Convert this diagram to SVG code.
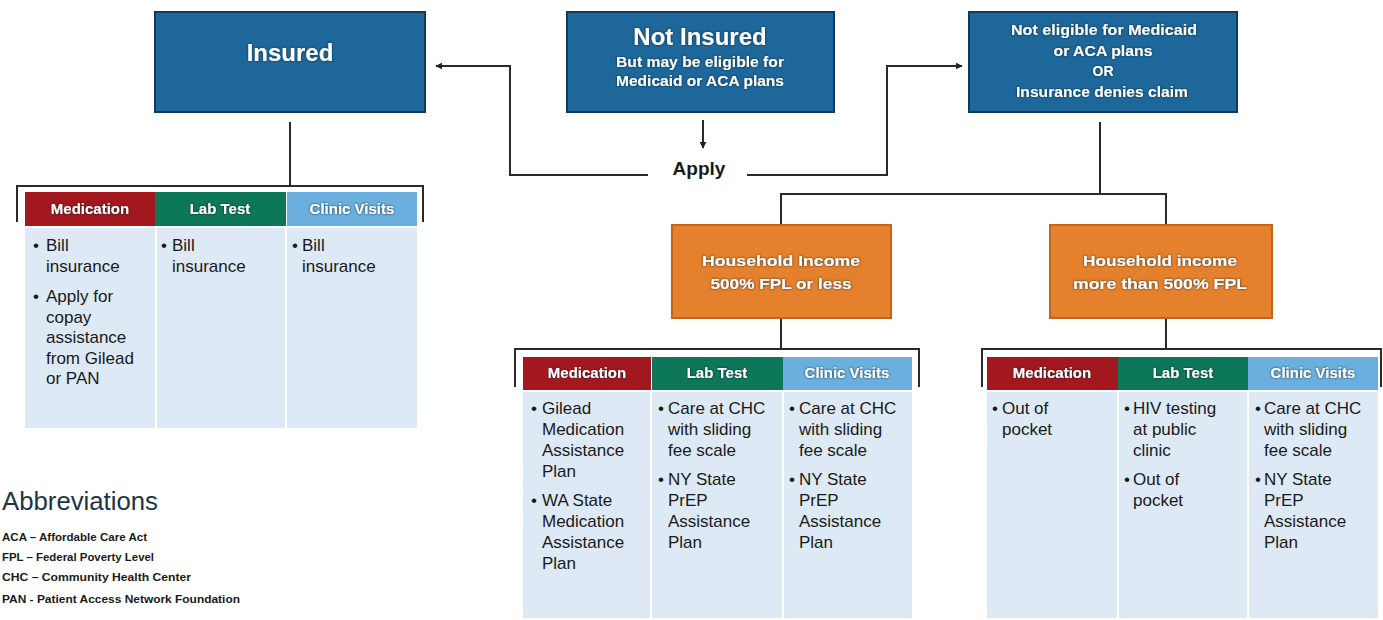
<svg xmlns="http://www.w3.org/2000/svg" width="1383" height="620" viewBox="0 0 1383 620">
<defs>
<filter id="sh" x="-10%" y="-30%" width="120%" height="160%">
<feDropShadow dx="0" dy="0" stdDeviation="1.2" flood-color="#0a2030" flood-opacity="0.9"/>
</filter>
<marker id="ah" viewBox="0 0 10 10" refX="9" refY="5" markerWidth="7" markerHeight="7" orient="auto" markerUnits="userSpaceOnUse">
<path d="M0,0 L10,5 L0,10 z" fill="#222"/>
</marker>
</defs>
<style>
.blue{fill:#1d679a;stroke:#0f3a5e;stroke-width:2}
.orange{fill:#e5802c;stroke:#c4631c;stroke-width:2}
.red{fill:#a3181e}
.green{fill:#0d7858}
.lblue{fill:#6aafdd}
.body{fill:#dde9f5}
.hd{font-family:"Liberation Sans",Arial,sans-serif;font-weight:bold;fill:#fff;text-anchor:middle;filter:url(#sh)}
.th{font-family:"Liberation Sans",Arial,sans-serif;font-weight:bold;font-size:15px;fill:#fff;text-anchor:middle;filter:url(#sh)}
.bt{font-family:"Liberation Sans",Arial,sans-serif;font-size:17px;fill:#1a1a1a}
.ln{fill:none;stroke:#2a2a2a;stroke-width:2}
.ab{font-family:"Liberation Sans",Arial,sans-serif;fill:#1a1a1a}
</style>

<g id="connectors">
<path class="ln" d="M648,175 H510 V66 H436" marker-end="url(#ah)"/>
<path class="ln" d="M747,175 H887 V66 H962" marker-end="url(#ah)"/>
<path class="ln" d="M703,120 V148" marker-end="url(#ah)"/>
<path class="ln" d="M290,122 V186"/>
<path class="ln" d="M17,222 V186 H423 V222"/>
<path class="ln" d="M1100,122 V194"/>
<path class="ln" d="M781,225 V194 H1166 V225"/>
<path class="ln" d="M781,318 V349"/>
<path class="ln" d="M515,387 V349 H919 V387"/>
<path class="ln" d="M1166,318 V349"/>
<path class="ln" d="M982,387 V349 H1381 V387"/>
</g>

<g id="apply">
<text x="699" y="175" font-family="Liberation Sans,Arial,sans-serif" font-weight="bold" font-size="19" fill="#1a1a1a" text-anchor="middle">Apply</text>
</g>

<g id="insured">
<rect class="blue" x="155" y="12" width="270" height="100"/>
<text class="hd" x="290" y="61" font-size="24">Insured</text>
</g>

<g id="not-insured">
<rect class="blue" x="567" y="12" width="267" height="100"/>
<text class="hd" x="700" y="45" font-size="24">Not Insured</text>
<text class="hd" x="700" y="67" font-size="14" textLength="168" lengthAdjust="spacingAndGlyphs">But may be eligible for</text>
<text class="hd" x="700" y="86" font-size="14" textLength="168" lengthAdjust="spacingAndGlyphs">Medicaid or ACA plans</text>
</g>

<g id="not-eligible">
<rect class="blue" x="969" y="12" width="268" height="100"/>
<text class="hd" x="1104" y="35" font-size="14" textLength="186" lengthAdjust="spacingAndGlyphs">Not eligible for Medicaid</text>
<text class="hd" x="1103" y="56" font-size="14" textLength="99" lengthAdjust="spacingAndGlyphs">or ACA plans</text>
<text class="hd" x="1103" y="76" font-size="14">OR</text>
<text class="hd" x="1102" y="97" font-size="14" textLength="172" lengthAdjust="spacingAndGlyphs">Insurance denies claim</text>
</g>

<g id="income-low">
<rect class="orange" x="672" y="225" width="219" height="93"/>
<text class="hd" x="781" y="266" font-size="15" textLength="158" lengthAdjust="spacingAndGlyphs">Household Income</text>
<text class="hd" x="781" y="289" font-size="15" textLength="141" lengthAdjust="spacingAndGlyphs">500% FPL or less</text>
</g>

<g id="income-high">
<rect class="orange" x="1050" y="225" width="222" height="93"/>
<text class="hd" x="1160" y="266" font-size="15" textLength="154" lengthAdjust="spacingAndGlyphs">Household income</text>
<text class="hd" x="1160" y="289" font-size="15" textLength="174" lengthAdjust="spacingAndGlyphs">more than 500% FPL</text>
</g>

<g id="table-insured">
<rect class="red" x="25" y="192" width="130" height="34"/>
<rect class="green" x="155" y="192" width="131" height="34"/>
<rect class="lblue" x="287" y="192" width="130" height="34"/>
<rect class="body" x="25" y="228" width="130" height="200"/>
<rect class="body" x="157" y="228" width="128" height="200"/>
<rect class="body" x="287" y="228" width="130" height="200"/>
<text class="th" x="90" y="214">Medication</text>
<text class="th" x="220" y="214">Lab Test</text>
<text class="th" x="352" y="214">Clinic Visits</text>
<text class="bt"><tspan x="33" y="251">•</tspan><tspan x="46" y="251">Bill</tspan><tspan x="46" y="272">insurance</tspan></text>
<text class="bt"><tspan x="33" y="302">•</tspan><tspan x="46" y="302">Apply for</tspan><tspan x="46" y="322.5">copay</tspan><tspan x="46" y="343">assistance</tspan><tspan x="46" y="363.5">from Gilead</tspan><tspan x="46" y="384">or PAN</tspan></text>
<text class="bt"><tspan x="161" y="251">•</tspan><tspan x="172" y="251">Bill</tspan><tspan x="172" y="272">insurance</tspan></text>
<text class="bt"><tspan x="292" y="251">•</tspan><tspan x="302" y="251">Bill</tspan><tspan x="302" y="272">insurance</tspan></text>
</g>

<g id="table-low">
<rect class="red" x="523" y="357" width="128" height="33"/>
<rect class="green" x="652" y="357" width="131" height="33"/>
<rect class="lblue" x="783" y="357" width="129" height="33"/>
<rect class="body" x="523" y="392" width="127" height="226"/>
<rect class="body" x="652" y="392" width="130" height="226"/>
<rect class="body" x="784" y="392" width="128" height="226"/>
<text class="th" x="587" y="378">Medication</text>
<text class="th" x="717" y="378">Lab Test</text>
<text class="th" x="847" y="378">Clinic Visits</text>
<text class="bt"><tspan x="531" y="414">•</tspan><tspan x="542" y="414">Gilead</tspan><tspan x="542" y="435">Medication</tspan><tspan x="542" y="456">Assistance</tspan><tspan x="542" y="477">Plan</tspan></text>
<text class="bt"><tspan x="531" y="506">•</tspan><tspan x="542" y="506">WA State</tspan><tspan x="542" y="527">Medication</tspan><tspan x="542" y="548">Assistance</tspan><tspan x="542" y="569">Plan</tspan></text>
<text class="bt"><tspan x="658" y="414">•</tspan><tspan x="668" y="414">Care at CHC</tspan><tspan x="668" y="435">with sliding</tspan><tspan x="668" y="456">fee scale</tspan></text>
<text class="bt"><tspan x="658" y="485">•</tspan><tspan x="668" y="485">NY State</tspan><tspan x="668" y="506">PrEP</tspan><tspan x="668" y="527">Assistance</tspan><tspan x="668" y="548">Plan</tspan></text>
<text class="bt"><tspan x="789" y="414">•</tspan><tspan x="799" y="414">Care at CHC</tspan><tspan x="799" y="435">with sliding</tspan><tspan x="799" y="456">fee scale</tspan></text>
<text class="bt"><tspan x="789" y="485">•</tspan><tspan x="799" y="485">NY State</tspan><tspan x="799" y="506">PrEP</tspan><tspan x="799" y="527">Assistance</tspan><tspan x="799" y="548">Plan</tspan></text>
</g>

<g id="table-high">
<rect class="red" x="987" y="357" width="131" height="33"/>
<rect class="green" x="1118" y="357" width="130" height="33"/>
<rect class="lblue" x="1248" y="357" width="130" height="33"/>
<rect class="body" x="987" y="392" width="130" height="226"/>
<rect class="body" x="1119" y="392" width="128" height="226"/>
<rect class="body" x="1249" y="392" width="129" height="226"/>
<text class="th" x="1052" y="378">Medication</text>
<text class="th" x="1183" y="378">Lab Test</text>
<text class="th" x="1313" y="378">Clinic Visits</text>
<text class="bt"><tspan x="992" y="414">•</tspan><tspan x="1002" y="414">Out of</tspan><tspan x="1002" y="435">pocket</tspan></text>
<text class="bt"><tspan x="1124" y="414">•</tspan><tspan x="1133" y="414">HIV testing</tspan><tspan x="1133" y="435">at public</tspan><tspan x="1133" y="456">clinic</tspan></text>
<text class="bt"><tspan x="1124" y="485">•</tspan><tspan x="1133" y="485">Out of</tspan><tspan x="1133" y="506">pocket</tspan></text>
<text class="bt"><tspan x="1255" y="414">•</tspan><tspan x="1264" y="414">Care at CHC</tspan><tspan x="1264" y="435">with sliding</tspan><tspan x="1264" y="456">fee scale</tspan></text>
<text class="bt"><tspan x="1255" y="485">•</tspan><tspan x="1264" y="485">NY State</tspan><tspan x="1264" y="506">PrEP</tspan><tspan x="1264" y="527">Assistance</tspan><tspan x="1264" y="548">Plan</tspan></text>
</g>

<g id="abbreviations">
<text x="2" y="510" font-family="Liberation Sans,Arial,sans-serif" font-size="26" fill="#1c3547" textLength="156" lengthAdjust="spacingAndGlyphs">Abbreviations</text>
<text class="ab" x="2" y="541" font-size="11.5" font-weight="bold" textLength="145" lengthAdjust="spacingAndGlyphs">ACA – Affordable Care Act</text>
<text class="ab" x="2" y="561" font-size="11.5" font-weight="bold" textLength="152" lengthAdjust="spacingAndGlyphs">FPL – Federal Poverty Level</text>
<text class="ab" x="2" y="581" font-size="11.5" font-weight="bold" textLength="189" lengthAdjust="spacingAndGlyphs">CHC – Community Health Center</text>
<text class="ab" x="2" y="603" font-size="11.5" font-weight="bold" textLength="238" lengthAdjust="spacingAndGlyphs">PAN - Patient Access Network Foundation</text>
</g>
</svg>
